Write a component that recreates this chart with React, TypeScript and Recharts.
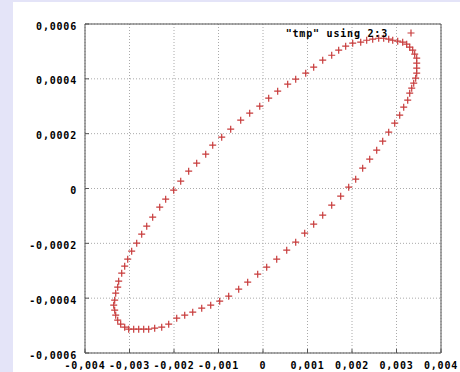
import {
  CartesianGrid,
  Legend,
  Scatter,
  ScatterChart,
  XAxis,
  YAxis,
} from "recharts";

// column 2 of "tmp"
const xs = [
  -0.002726, -0.002838, -0.002951, -0.00304, -0.003108, -0.003175, -0.003243, -0.003265, -0.00331, -0.003333,
  -0.003355, -0.003333, -0.00331, -0.003265, -0.003198, -0.003108, -0.003018, -0.002906, -0.002793, -0.002681,
  -0.002569, -0.002434, -0.002276, -0.002119, -0.001939, -0.001759, -0.001579, -0.001377, -0.001175, -0.000973,
  -0.000771, -0.000546, -0.000344, -0.000119, 0.000083, 0.000308, 0.000533, 0.000735, 0.000937, 0.001139,
  0.001342, 0.001544, 0.001746, 0.001926, 0.002083, 0.00224, 0.002398, 0.002555, 0.00269, 0.002825,
  0.00296, 0.003072, 0.003162, 0.003252, 0.003297, 0.003342, 0.003387, 0.003431, 0.003454, 0.003454,
  0.003454, 0.003454, 0.003409, 0.003364, 0.003297, 0.003229, 0.003139, 0.003027, 0.002915, 0.002825,
  0.002712, 0.0026, 0.002465, 0.00233, 0.002196, 0.002016, 0.001858, 0.001701, 0.001544, 0.001342,
  0.001139, 0.00096, 0.000735, 0.000555, 0.00033, 0.000128, -0.000073, -0.000299, -0.000501, -0.000726,
  -0.000928, -0.00113, -0.001287, -0.00149, -0.00167, -0.001849, -0.002007, -0.002187, -0.002321, -0.002479,
  -0.002613,
];

// column 3 of "tmp"
const ys = [
  -1.667e-4, -1.995e-4, -2.287e-4, -2.578e-4, -2.834e-4, -3.089e-4, -3.381e-4, -3.6e-4, -3.818e-4, -4.074e-4,
  -4.256e-4, -4.438e-4, -4.621e-4, -4.803e-4, -4.949e-4, -5.058e-4, -5.131e-4, -5.131e-4, -5.131e-4, -5.131e-4,
  -5.131e-4, -5.095e-4, -5.058e-4, -4.949e-4, -4.73e-4, -4.621e-4, -4.511e-4, -4.365e-4, -4.256e-4, -4.11e-4,
  -3.928e-4, -3.672e-4, -3.417e-4, -3.125e-4, -2.87e-4, -2.578e-4, -2.25e-4, -1.958e-4, -1.63e-4, -1.302e-4,
  -0.974e-4, -0.609e-4, -0.281e-4, 0.047e-4, 0.339e-4, 0.74e-4, 1.069e-4, 1.397e-4, 1.725e-4, 2.053e-4,
  2.381e-4, 2.673e-4, 2.965e-4, 3.22e-4, 3.476e-4, 3.658e-4, 3.84e-4, 4.023e-4, 4.205e-4, 4.387e-4,
  4.57e-4, 4.752e-4, 4.898e-4, 5.044e-4, 5.153e-4, 5.263e-4, 5.336e-4, 5.372e-4, 5.408e-4, 5.445e-4,
  5.481e-4, 5.481e-4, 5.445e-4, 5.408e-4, 5.336e-4, 5.299e-4, 5.19e-4, 5.044e-4, 4.861e-4, 4.679e-4,
  4.424e-4, 4.205e-4, 3.986e-4, 3.804e-4, 3.549e-4, 3.293e-4, 3.001e-4, 2.746e-4, 2.491e-4, 2.163e-4,
  1.871e-4, 1.579e-4, 1.251e-4, 0.923e-4, 0.631e-4, 0.266e-4, -0.062e-4, -0.39e-4, -0.682e-4, -1.047e-4,
  -1.375e-4,
];

const xTicks = [-0.004, -0.003, -0.002, -0.001, 0, 0.001, 0.002, 0.003, 0.004];
const xTickLabels = ["-0,004", "-0,003", "-0,002", "-0,001", "0", "0,001", "0,002", "0,003", "0,004"];
const yTicks = [-0.0006, -0.0004, -0.0002, 0, 0.0002, 0.0004, 0.0006];
const yTickLabels = ["-0,0006", "-0,0004", "-0,0002", "0", "0,0002", "0,0004", "0,0006"];

const seriesName = '"tmp" using 2:3';

const data = xs.map((x, i) => ({ x, y: ys[i] }));

const RED = "#c83c3c";
const BORDER = "#555555";
const tickFont = {
  fontFamily: "'DejaVu Sans Mono', monospace",
  fontWeight: "bold" as const,
  fontSize: 10,
  fill: "#000",
  letterSpacing: 0.8,
};

const Plus = (props: any) => {
  const { cx, cy } = props;
  if (cx == null || cy == null) return null;
  return (
    <path
      d={`M${cx - 3.5},${cy}h7M${cx},${cy - 3.5}v7`}
      stroke={RED}
      strokeWidth={1.2}
      fill="none"
    />
  );
};

const LegendBox = () => (
  <div
    style={{
      display: "flex",
      alignItems: "center",
      justifyContent: "flex-end",
      height: 14,
      fontFamily: "'DejaVu Sans Mono', monospace",
      fontWeight: "bold",
      fontSize: 10,
      letterSpacing: 0.8,
      color: "#000",
    }}
  >
    <span>{seriesName}</span>
    <svg width={14} height={14} style={{ marginLeft: 16 }}>
      <path d="M3.5,7h7M7,3.5v7" stroke={RED} strokeWidth={1.2} />
    </svg>
  </div>
);

function App() {
  return (
    <div
      style={{
        position: "absolute",
        left: 0,
        top: 0,
        width: 460,
        height: 372,
        background: "#e4e4f8",
        overflow: "hidden",
      }}
    >
      <div
        style={{
          position: "absolute",
          left: 13,
          top: 2,
          width: 447,
          height: 370,
          background: "#ffffff",
        }}
      >
        <ScatterChart
          width={447}
          height={370}
          margin={{ top: 21, right: 18, bottom: 0, left: 0 }}
        >
          <CartesianGrid stroke="#aaaaaa" strokeDasharray="1 2" />
          <XAxis
            type="number"
            dataKey="x"
            domain={[-0.004, 0.004]}
            ticks={xTicks}
            interval={0}
            allowDataOverflow
            height={19}
            tickSize={-4}
            tickMargin={13}
            stroke={BORDER}
            tick={tickFont}
            tickFormatter={(_v: number, i: number) => xTickLabels[i]}
          />
          <XAxis
            xAxisId="top"
            orientation="top"
            type="number"
            dataKey="x"
            domain={[-0.004, 0.004]}
            ticks={xTicks}
            interval={0}
            allowDataOverflow
            height={1}
            tickSize={-4}
            tick={false}
            stroke={BORDER}
          />
          <YAxis
            type="number"
            dataKey="y"
            domain={[-0.0006, 0.0006]}
            ticks={yTicks}
            interval={0}
            allowDataOverflow
            width={72}
            tickSize={-4}
            tickMargin={12}
            stroke={BORDER}
            tick={{ ...tickFont, dy: 2 }}
            tickFormatter={(_v: number, i: number) => yTickLabels[i]}
          />
          <YAxis
            yAxisId="right"
            orientation="right"
            type="number"
            dataKey="y"
            domain={[-0.0006, 0.0006]}
            ticks={yTicks}
            interval={0}
            allowDataOverflow
            width={1}
            tickSize={-4}
            tick={false}
            stroke={BORDER}
          />
          <Legend
            layout="vertical"
            align="center"
            verticalAlign="middle"
            wrapperStyle={{ top: 24, left: 250, width: 155, height: 14 }}
            content={() => <LegendBox />}
          />
          <Scatter
            name={seriesName}
            data={data}
            shape={Plus}
            fill={RED}
            isAnimationActive={false}
          />
        </ScatterChart>
      </div>
    </div>
  );
}

export default App;
